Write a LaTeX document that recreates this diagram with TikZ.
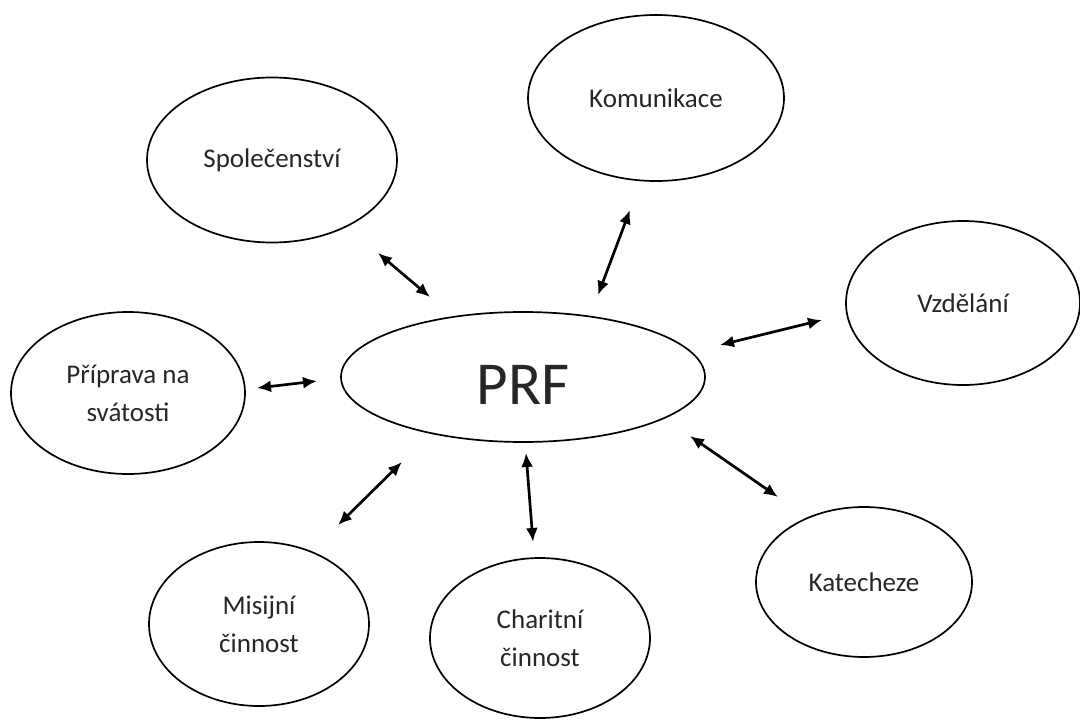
\documentclass[tikz,border=0pt]{standalone}
\usepackage{fontspec}
\setmainfont{Carlito}
\usetikzlibrary{shapes.geometric,arrows.meta}

\tikzset{
  bubble/.style={draw,ellipse,line width=1.7pt,inner sep=0pt,align=center,
    font=\fontsize{27}{38}\selectfont,text=black!85},
  link/.style={{Latex[length=14pt,width=12pt]}-{Latex[length=14pt,width=12pt]},line width=2.7pt}
}

\begin{document}
\begin{tikzpicture}[x=1pt,y=-1pt]
    \useasboundingbox (0,0) rectangle (1080,720);

    \node[bubble,minimum width=364pt,minimum height=130pt,font=\fontsize{61}{64}\selectfont,
      text height=55pt,text depth=0pt] (prf) at (523,377) {PRF};

    \node[bubble,minimum width=250pt,minimum height=165pt] (spolecenstvi) at (272,160) {Společenství};
    \node[bubble,minimum width=256pt,minimum height=166pt] (komunikace) at (656,98) {Komunikace};
    \node[bubble,minimum width=234pt,minimum height=164pt] (vzdelani) at (963,303) {Vzdělání};
    \node[bubble,minimum width=234pt,minimum height=162pt] (priprava) at (128,393) {Příprava na\\svátosti};
    \node[bubble,minimum width=220pt,minimum height=164pt] (misijni) at (259,624) {Misijní\\činnost};
    \node[bubble,minimum width=220pt,minimum height=160pt] (charitni) at (540,638) {Charitní\\činnost};
    \node[bubble,minimum width=216pt,minimum height=150pt] (katecheze) at (864,582) {Katecheze};

    % arrow ends
    \coordinate (spolA) at (378,253);
    \coordinate (spolB) at (430,297);
    \coordinate (komA) at (630,210);
    \coordinate (komB) at (598,295);
    \coordinate (vzdA) at (822,320);
    \coordinate (vzdB) at (720,345);
    \coordinate (pripA) at (257,388);
    \coordinate (pripB) at (317,381);
    \coordinate (misA) at (338,525);
    \coordinate (misB) at (402,462);
    \coordinate (charA) at (533,542);
    \coordinate (charB) at (526,453);
    \coordinate (katA) at (778,497);
    \coordinate (katB) at (690,436);

    \draw[link] (spolA) -- (spolB);
    \draw[link] (komA) -- (komB);
    \draw[link] (vzdA) -- (vzdB);
    \draw[link] (pripA) -- (pripB);
    \draw[link] (misA) -- (misB);
    \draw[link] (charA) -- (charB);
    \draw[link] (katA) -- (katB);
\end{tikzpicture}
\end{document}
